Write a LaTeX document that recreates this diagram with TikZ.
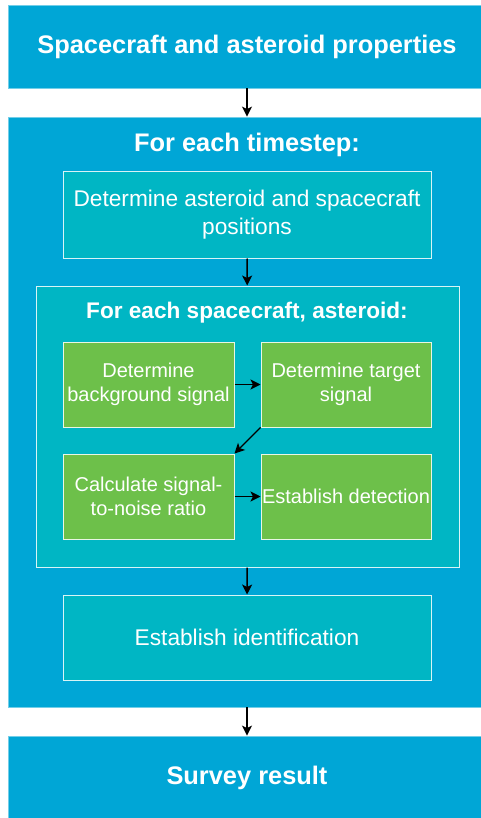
\documentclass[tikz,border=0pt]{standalone}
\usepackage{fontspec}
\setmainfont{Liberation Sans}
\usepackage{xcolor}
\usepackage{tikz}
\usetikzlibrary{arrows.meta}

\definecolor{skyblue}{RGB}{0,166,214}
\definecolor{tealbox}{RGB}{0,182,196}
\definecolor{leafgreen}{RGB}{109,192,74}

\tikzset{
  bluebox/.style={rectangle, fill=skyblue, draw=skyblue!55!white, line width=0.8pt, inner sep=0pt,
    text=white, font=\fontsize{25.4}{30}\selectfont\bfseries},
  tealstep/.style={rectangle, fill=tealbox, draw=white!85!tealbox, line width=1pt, inner sep=0pt,
    text=white, align=center, font=\fontsize{22.7}{28}\selectfont},
  greenstep/.style={rectangle, fill=leafgreen, draw=white!85!leafgreen, line width=1pt, inner sep=0pt,
    minimum width=171pt, minimum height=85pt, text=white, align=center, font=\fontsize{20}{24}\selectfont},
  heading/.style={text=white, font=\fontsize{22.6}{26}\selectfont\bfseries},
  flow/.style={-{Stealth[length=10pt,width=10pt,inset=2.5pt]}, line width=1.4pt, black},
}

\begin{document}
\begin{tikzpicture}[x=1pt,y=-1pt]
                    \useasboundingbox (0,0) rectangle (481,818);%

                    % Outer boxes
                    \node [bluebox, minimum width=478pt, minimum height=83pt] (props) at (247,46.5) {Spacecraft and asteroid properties};%
                    \node [bluebox, minimum width=478pt, minimum height=590pt] (timeloop) at (247,412) {};%
                    \node [bluebox, minimum width=478pt, minimum height=84pt] (result) at (247,778) {Survey result};%

                    % Timestep loop
                    \node [heading, font=\fontsize{25.4}{30}\selectfont\bfseries] (timelabel) at (247,145) {For each timestep:};%
                    \node [tealstep, minimum width=368pt, minimum height=86pt] (positions) at (247,215)
                          {Determine asteroid and spacecraft\\positions};%
                    \node [tealstep, minimum width=423pt, minimum height=281pt] (pairloop) at (247.5,426.5) {};%
                    \node [tealstep, minimum width=368pt, minimum height=85pt] (ident) at (247,637.5)
                          {Establish identification};%

                    % Spacecraft, asteroid loop
                    \node [heading] (pairlabel) at (247,313) {For each spacecraft, asteroid:};%
                    \node [greenstep] (background) at (148.5,384.5) {Determine\\background signal};%
                    \node [greenstep, minimum width=170pt] (target) at (346,384.5) {Determine target\\signal};%
                    \node [greenstep] (snr) at (148.5,496.5) {Calculate signal-\\to-noise ratio};%
                    \node [greenstep, minimum width=170pt] (detect) at (346,496.5) {Establish detection};%

                    % Connectors
                    \draw [flow] (props) -- (timeloop);%
                    \draw [flow] (positions) -- (pairloop);%
                    \draw [flow] (background) -- (target);%
                    \draw [flow] (target.south west) -- (snr.north east);%
                    \draw [flow] (snr) -- (detect);%
                    \draw [flow] (pairloop) -- (ident);%
                    \draw [flow] (timeloop) -- (result);%
\end{tikzpicture}
\end{document}
